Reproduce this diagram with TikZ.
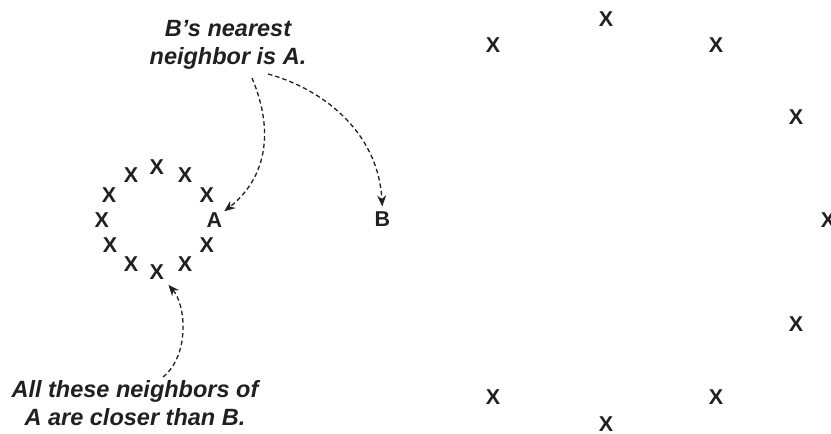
\documentclass[tikz,border=0pt]{standalone}
\usepackage{fontspec}
\setmainfont{Liberation Sans}
\usetikzlibrary{arrows.meta}
\definecolor{ink}{HTML}{231F20}
\begin{document}
\begin{tikzpicture}[x=1pt,y=-1pt,
  xmark/.style={font=\fontsize{21.5}{24}\selectfont\bfseries, inner sep=1pt, text=ink},
  lbl/.style={font=\fontsize{23.5}{28}\selectfont\bfseries\itshape, align=center, inner sep=0pt, text=ink},
  conn/.style={draw=ink, line width=1.3pt, dash pattern=on 4.5pt off 3pt, -{Stealth[length=11pt,width=9pt]}}
]
\useasboundingbox (0,0) rectangle (831,434);

% left cluster
\node[xmark] (c1)  at (156.7,167)   {X};
\node[xmark] (c2)  at (131,175.5)   {X};
\node[xmark] (c3)  at (185,175.5)   {X};
\node[xmark] (c4)  at (109,195)     {X};
\node[xmark] (c5)  at (206.7,195)   {X};
\node[xmark] (c6)  at (101.7,220.5) {X};
\node[xmark] (A)   at (214.5,220.5) {A};
\node[xmark] (c7)  at (110,245.5)   {X};
\node[xmark] (c8)  at (206.7,245)   {X};
\node[xmark] (c9)  at (131,264)     {X};
\node[xmark] (c10) at (185,264)     {X};
\node[xmark] (xb)  at (156.7,272.5) {X};

% B
\node[xmark] (B) at (382.5,219) {B};

% right ring
\node[xmark] (r1) at (606,19)      {X};
\node[xmark] (r2) at (493,45.5)    {X};
\node[xmark] (r3) at (716,45.5)    {X};
\node[xmark] (r4) at (796,117.5)   {X};
\node[xmark] (r5) at (828,220.5)   {X};
\node[xmark] (r6) at (796,324.5)   {X};
\node[xmark] (r7) at (493,397)     {X};
\node[xmark] (r8) at (716,397)     {X};
\node[xmark] (r9) at (606,424.5)   {X};

% labels
\node[lbl] (top) at (228,45) {B’s nearest\\neighbor is A.};
\node[lbl] (bot) at (135,403) {All these neighbors of\\A are closer than B.};

\coordinate (s1) at (252,78);
\coordinate (s2) at (268,74);
\coordinate (s3) at (163,377);

\draw[conn, shorten >=1pt] (s1) .. controls (276,135) and (264,180) .. (A.north east);
\draw[conn, shorten >=4pt] (s2) .. controls (320,88) and (378,130) .. (B.north);
\draw[conn, shorten >=5pt] (s3) .. controls (190,355) and (186,305) .. (xb.south east);
\end{tikzpicture}
\end{document}
